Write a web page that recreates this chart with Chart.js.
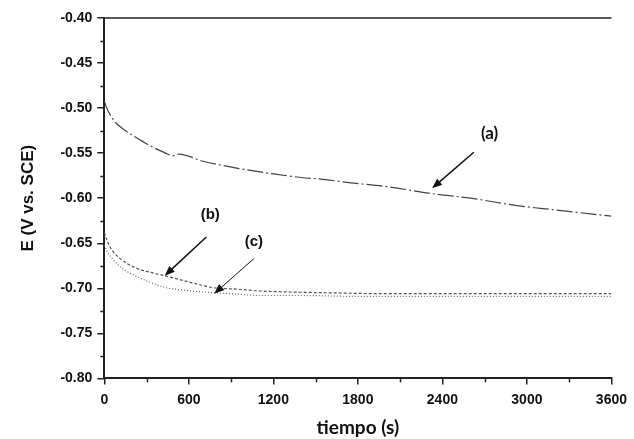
<!DOCTYPE html>
<html>
<head>
<meta charset="utf-8">
<script src="https://cdn.jsdelivr.net/npm/chart.js@4"></script>
<style>
  html, body { margin: 0; padding: 0; background: #fff; }
  #wrap { width: 634px; height: 439px; }
</style>
</head>
<body>
<div id="wrap"><canvas id="potencialChart"></canvas></div>
<script>
// curva (a)
var tiempoA = [0, 15, 40, 80, 140, 220, 340, 450, 480, 530, 700, 920, 1200, 1400, 1550, 1750, 2000, 2330, 2600, 2920, 3200, 3600];
var potencialA = [-0.492, -0.499, -0.507, -0.516, -0.524, -0.532, -0.543, -0.551, -0.553, -0.551, -0.559, -0.566, -0.573, -0.577, -0.579, -0.583, -0.587, -0.595, -0.600, -0.608, -0.613, -0.620];

// curva (b)
var tiempoB = [0, 20, 56, 120, 218, 320, 429, 600, 760, 950, 1110, 1300, 1600, 2000, 2500, 3000, 3600];
var potencialB = [-0.638, -0.647, -0.658, -0.668, -0.677, -0.682, -0.686, -0.693, -0.699, -0.701, -0.703, -0.704, -0.705, -0.706, -0.706, -0.706, -0.706];

// curva (c)
var tiempoC = [0, 20, 56, 120, 218, 320, 429, 560, 690, 900, 1110, 1400, 1800, 2400, 3000, 3600];
var potencialC = [-0.652, -0.659, -0.667, -0.677, -0.686, -0.693, -0.699, -0.702, -0.704, -0.706, -0.708, -0.708, -0.709, -0.709, -0.709, -0.709];

// etiquetas con flecha: texto, posición del texto, inicio y fin de la flecha (en unidades de datos)
var etiquetas = ["(a)", "(b)", "(c)"];
var etiquetaPos = [[2735, -0.528], [752, -0.619], [1062, -0.649]];
var flechaDesde = [[2623, -0.549], [724, -0.643], [1062, -0.667]];
var flechaHasta = [[2327, -0.589], [429, -0.686], [780, -0.706]];

var toPoints = function (xs, ys) {
    return xs.map(function (x, i) { return {x: x, y: ys[i]}; });
};

var ejesPlugin = {
    id: 'ejesPlugin',
    afterDraw: function (chart) {
        var ctx = chart.ctx;
        var xs = chart.scales.x, ys = chart.scales.y;
        var area = chart.chartArea;
        ctx.save();
        ctx.strokeStyle = '#222';
        ctx.lineWidth = 1.5;
        // linea superior
        ctx.beginPath();
        ctx.moveTo(area.left, area.top);
        ctx.lineTo(area.right, area.top);
        ctx.stroke();
        // ticks menores
        for (var v = -0.775; v < -0.4; v += 0.05) {
            var py = Math.round(ys.getPixelForValue(v)) + 0.5;
            ctx.beginPath();
            ctx.moveTo(area.left - 4, py);
            ctx.lineTo(area.left, py);
            ctx.stroke();
        }
        for (var t = 300; t < 3600; t += 600) {
            var px = Math.round(xs.getPixelForValue(t)) + 0.5;
            ctx.beginPath();
            ctx.moveTo(px, area.bottom);
            ctx.lineTo(px, area.bottom + 4);
            ctx.stroke();
        }
        // etiquetas y flechas
        ctx.fillStyle = '#111';
        ctx.strokeStyle = '#111';
        ctx.textAlign = 'center';
        ctx.textBaseline = 'middle';
        etiquetas.forEach(function (txt, i) {
            ctx.font = (i === 0 ? 'bold 17px Lato' : 'bold 15px "Liberation Sans"');
            ctx.fillText(txt, xs.getPixelForValue(etiquetaPos[i][0]), ys.getPixelForValue(etiquetaPos[i][1]));
            var x1 = xs.getPixelForValue(flechaDesde[i][0]), y1 = ys.getPixelForValue(flechaDesde[i][1]);
            var x2 = xs.getPixelForValue(flechaHasta[i][0]), y2 = ys.getPixelForValue(flechaHasta[i][1]);
            var ang = Math.atan2(y2 - y1, x2 - x1);
            ctx.lineWidth = (i === 2 ? 1 : 1.5);
            ctx.beginPath();
            ctx.moveTo(x1, y1);
            ctx.lineTo(x2 - 6 * Math.cos(ang), y2 - 6 * Math.sin(ang));
            ctx.stroke();
            ctx.beginPath();
            ctx.moveTo(x2, y2);
            ctx.lineTo(x2 - 10 * Math.cos(ang) + 4 * Math.sin(ang), y2 - 10 * Math.sin(ang) - 4 * Math.cos(ang));
            ctx.lineTo(x2 - 10 * Math.cos(ang) - 4 * Math.sin(ang), y2 - 10 * Math.sin(ang) + 4 * Math.cos(ang));
            ctx.closePath();
            ctx.fill();
        });
        ctx.restore();
    }
};

var datos = {
    datasets: [
        {
            label: "(a)",
            data: toPoints(tiempoA, potencialA),
            borderColor: "#444",
            borderWidth: 1.2,
            borderDash: [16, 3, 2, 3],
            cubicInterpolationMode: 'monotone',
            showLine: true,
            pointRadius: 0
        },
        {
            label: "(b)",
            data: toPoints(tiempoB, potencialB),
            borderColor: "#555",
            borderWidth: 1.2,
            borderDash: [3, 2],
            cubicInterpolationMode: 'monotone',
            showLine: true,
            pointRadius: 0
        },
        {
            label: "(c)",
            data: toPoints(tiempoC, potencialC),
            borderColor: "#666",
            borderWidth: 1.2,
            borderDash: [1, 2],
            cubicInterpolationMode: 'monotone',
            showLine: true,
            pointRadius: 0
        }
    ]
};

var opciones = {
    responsive: true,
    maintainAspectRatio: false,
    animation: false,
    layout: {padding: {top: 18, right: 18, left: 14, bottom: 0}},
    plugins: {legend: {display: false}, tooltip: {enabled: false}},
    scales: {
        x: {
            type: 'linear',
            min: 0,
            max: 3600,
            border: {color: '#222', width: 2},
            grid: {drawOnChartArea: false, tickLength: 6, color: '#222', lineWidth: 1.5},
            ticks: {
                stepSize: 600,
                color: '#111',
                font: {family: 'Liberation Sans', weight: 'bold', size: 14},
                padding: 7,
                callback: function (value) { return String(value); }
            },
            title: {display: true, text: 'tiempo (s)', color: '#111', font: {family: 'Lato', weight: 'bold', size: 19}, padding: {top: 1, bottom: 0}}
        },
        y: {
            type: 'linear',
            min: -0.8,
            max: -0.4,
            border: {color: '#222', width: 2},
            grid: {drawOnChartArea: false, tickLength: 7, color: '#222', lineWidth: 1.5},
            ticks: {
                stepSize: 0.05,
                color: '#111',
                font: {family: 'Liberation Sans', weight: 'bold', size: 14},
                padding: 5,
                callback: function (value) { return value.toFixed(2); }
            },
            title: {display: true, text: 'E (V vs. SCE)', color: '#111', font: {family: 'Liberation Sans', weight: 'bold', size: 17}, padding: {bottom: 17}}
        }
    }
};

var ctx1 = document.getElementById("potencialChart").getContext("2d");
new Chart(ctx1, {type: 'scatter', data: datos, options: opciones, plugins: [ejesPlugin]});
</script>
</body>
</html>
